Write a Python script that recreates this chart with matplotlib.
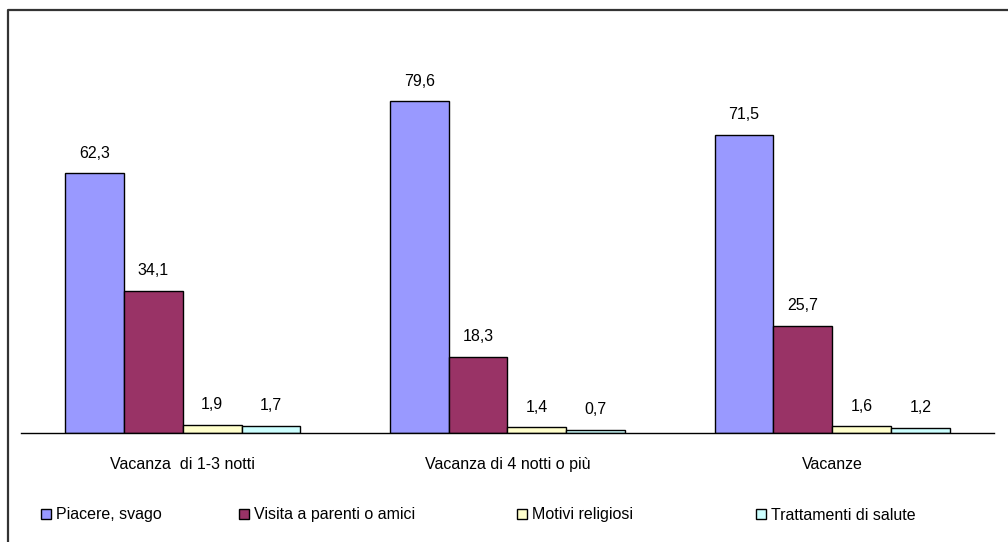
import matplotlib
matplotlib.use('Agg')
import numpy as np
from matplotlib import pyplot as plt
from matplotlib.lines import Line2D

plt.rcParams['font.family'] = ['Liberation Sans', 'DejaVu Sans']

# data
categories = ['Vacanza  di 1-3 notti', 'Vacanza di 4 notti o più', 'Vacanze']
series = ['Piacere, svago', 'Visita a parenti o amici', 'Motivi religiosi', 'Trattamenti di salute']
piacere = [62.3, 79.6, 71.5]
visita = [34.1, 18.3, 25.7]
religiosi = [1.9, 1.4, 1.6]
salute = [1.7, 0.7, 1.2]

values = [piacere, visita, religiosi, salute]
colors = ['#9999FF', '#993366', '#FFFFCC', '#CCFFFF']

fig = plt.figure(figsize=(10.08, 5.42), dpi=100)
ax = fig.add_axes([20.5 / 1008, 1 - 433 / 542, 974 / 1008, 375 / 542])

x = np.arange(len(categories))
w = 0.181
bars = []
for i, (vals, c) in enumerate(zip(values, colors)):
    b = ax.bar(x + (i - 1.5) * w, vals, w, color=c, edgecolor='black', linewidth=1.0)
    bars.append(b)
    for xi, v in zip(x + (i - 1.5) * w, vals):
        ax.annotate(str(v).replace('.', ','), (xi, v), xytext=(0, 14.5), textcoords='offset points',
                    ha='center', va='center', fontsize=11.5)

ax.set_xlim(-0.5, 2.5)
ax.set_ylim(0, 90)
ax.set_yticks([])
ax.set_xticks(x)
ax.set_xticklabels(categories, fontsize=11.5)
ax.tick_params(axis='x', length=0, pad=17)
for s in ['top', 'right', 'left']:
    ax.spines[s].set_visible(False)
ax.spines['bottom'].set_linewidth(1.0)

# legend entries placed one by one like the original
leg_x = [41, 239, 517, 756]
for b, lab, lx in zip(bars, series, leg_x):
    lg = fig.legend([b], [lab], loc='center left', bbox_to_anchor=(lx / 1008, 1 - 515 / 542),
                    frameon=False, fontsize=11.5, handlelength=0.6, handleheight=0.6,
                    handletextpad=0.35, borderpad=0, borderaxespad=0)

# outer frame (top and left only visible)
fx = 7.5 / 1008
fy = 1 - 10 / 542
fig.add_artist(Line2D([fx, fx, 1], [0, fy, fy], transform=fig.transFigure, color='#333333', linewidth=1.6))

fig.savefig('out.png', dpi=100)
